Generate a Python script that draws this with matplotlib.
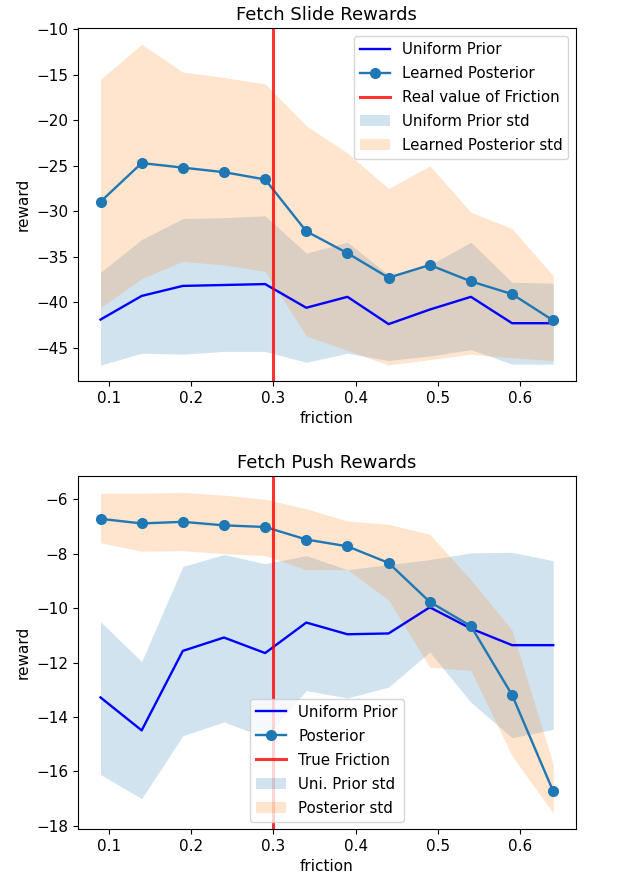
import numpy as np
import matplotlib
matplotlib.use("Agg")
import matplotlib.pyplot as plt

friction = [0.09, 0.14, 0.19, 0.24, 0.29, 0.34, 0.39, 0.44, 0.49, 0.54, 0.59, 0.64]
true_friction = 0.3

# Fetch Slide
slide_uniform = [-41.9, -39.3, -38.2, -38.1, -38.0, -40.6, -39.4, -42.4, -40.8, -39.4, -42.3, -42.3]
slide_uniform_hi = [-36.7, -33.1, -30.8, -30.7, -30.5, -34.6, -33.4, -37.0, -35.9, -33.4, -37.8, -37.9]
slide_uniform_lo = [-46.9, -45.6, -45.7, -45.4, -45.4, -46.6, -45.6, -46.4, -45.9, -45.2, -46.8, -46.8]
slide_post = [-28.95, -24.7, -25.2, -25.7, -26.5, -32.2, -34.6, -37.3, -35.9, -37.7, -39.1, -42.0]
slide_post_hi = [-15.5, -11.65, -14.7, -15.3, -16.0, -20.6, -23.6, -27.5, -25.0, -30.1, -31.9, -37.1]
slide_post_lo = [-40.6, -37.4, -35.5, -35.9, -36.6, -43.7, -45.3, -46.9, -46.3, -45.7, -46.1, -46.4]

# Fetch Push
push_uniform = [-13.28, -14.49, -11.57, -11.08, -11.65, -10.53, -10.96, -10.93, -9.97, -10.75, -11.36, -11.36]
push_uniform_hi = [-10.5, -11.96, -8.47, -8.03, -8.37, -8.07, -8.59, -8.4, -8.22, -7.97, -7.95, -8.26]
push_uniform_lo = [-16.11, -17.0, -14.69, -14.18, -14.75, -13.03, -13.3, -12.9, -11.61, -13.46, -14.76, -14.45]
push_post = [-6.72, -6.89, -6.83, -6.96, -7.02, -7.48, -7.73, -8.34, -9.77, -10.66, -13.19, -16.73]
push_post_hi = [-5.78, -5.78, -5.75, -5.85, -6.0, -6.35, -6.8, -6.92, -7.29, -8.96, -10.81, -15.74]
push_post_lo = [-7.6, -7.91, -7.89, -8.0, -8.07, -8.59, -8.59, -9.7, -12.17, -12.29, -15.43, -17.53]

plt.rcParams["font.size"] = 11


def plot_rewards(ax, title, uni, uni_lo, uni_hi, post, post_lo, post_hi, labels, loc):
    ax.plot(friction, uni, color="b", lw=1.7, label=labels[0])
    ax.plot(friction, post, color="C0", lw=1.7, marker="o", ms=7, label=labels[1])
    ax.axvline(true_friction, color="r", alpha=0.8, lw=2.2, label=labels[2])
    ax.fill_between(friction, uni_lo, uni_hi, color="C0", alpha=0.2, lw=0, label=labels[3])
    ax.fill_between(friction, post_lo, post_hi, color="C1", alpha=0.2, lw=0, label=labels[4])
    ax.set_title(title, fontsize=13)
    ax.set_xlabel("friction", fontsize=11)
    ax.set_ylabel("reward", fontsize=11)
    ax.legend(loc=loc, fontsize=10.8, labelspacing=0.6)


fig, (ax1, ax2) = plt.subplots(2, 1, figsize=(6.28, 8.84), dpi=100)
fig.subplots_adjust(left=0.124, right=0.917, top=0.968, bottom=0.062, hspace=0.27)

plot_rewards(ax1, "Fetch Slide Rewards", slide_uniform, slide_uniform_lo, slide_uniform_hi,
             slide_post, slide_post_lo, slide_post_hi,
             ["Uniform Prior", "Learned Posterior", "Real value of Friction",
              "Uniform Prior std", "Learned Posterior std"], "upper right")
ax1.set_yticks(np.arange(-45, -9, 5))

plot_rewards(ax2, "Fetch Push Rewards", push_uniform, push_uniform_lo, push_uniform_hi,
             push_post, push_post_lo, push_post_hi,
             ["Uniform Prior", "Posterior", "True Friction",
              "Uni. Prior std", "Posterior std"], "lower center")

plt.savefig("out.png", dpi=100)
